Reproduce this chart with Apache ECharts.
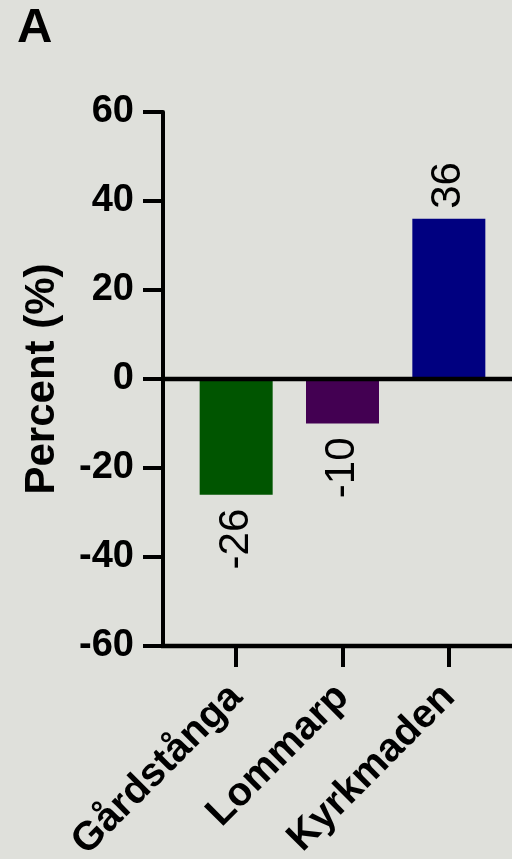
<!DOCTYPE html>
<html><head><meta charset="utf-8">
<script src="https://cdn.jsdelivr.net/npm/echarts@6/dist/echarts.min.js"></script>
<style>html,body{margin:0;padding:0;background:#dfe0db;}#c{width:512px;height:859px;}</style>
</head><body><div id="c"></div>
<script>
var categories = ['Gårdstånga', 'Lommarp', 'Kyrkmaden'];
var values = [-26, -10, 36];
var barColors = ['#005500', '#430052', '#000080'];
var yTicks = [-60, -40, -20, 0, 20, 40, 60];
var panelLetter = 'A';
var yName = 'Percent (%)';

var FONT = '"Liberation Sans", Arial, sans-serif';
var chart = echarts.init(document.getElementById('c'));
var data = values.map(function (v, i) {
  return {
    value: v,
    itemStyle: { color: barColors[i] },
    label: v >= 0
      ? { position: 'top', align: 'left', verticalAlign: 'middle', distance: 10 }
      : { position: 'bottom', align: 'right', verticalAlign: 'middle', distance: 14 }
  };
});
chart.setOption({
  backgroundColor: '#dfe0db',
  animation: false,
  title: { text: panelLetter, left: 12, top: -1,
    textStyle: { fontFamily: FONT, fontWeight: 'bold', fontSize: 49, color: '#000' } },
  grid: { left: 183, right: 10, top: 112, bottom: 213, containLabel: false, outerBoundsMode: 'none' },
  xAxis: {
    type: 'category', data: categories,
    axisLine: { show: false, onZero: false },
    axisTick: { show: true, alignWithLabel: true, length: 21, lineStyle: { width: 4, color: '#000' } },
    axisLabel: { rotate: 45, margin: 45, interval: 0, fontFamily: FONT, fontWeight: 'bold', fontSize: 40, color: '#000' }
  },
  yAxis: {
    type: 'value', min: yTicks[0], max: yTicks[yTicks.length - 1], interval: 20, offset: 20,
    name: yName, nameLocation: 'middle', nameGap: 100,
    nameTextStyle: { fontFamily: FONT, fontWeight: 'bold', fontSize: 42, color: '#000' },
    axisLine: { show: true, lineStyle: { width: 4, color: '#000' } },
    axisTick: { show: true, length: 20, lineStyle: { width: 4, color: '#000' } },
    axisLabel: { margin: 29, fontFamily: FONT, fontWeight: 'bold', fontSize: 38, color: '#000' },
    splitLine: { show: false }
  },
  series: [{
    type: 'bar', data: data, barWidth: 73,
    label: { show: true, rotate: 90, fontFamily: FONT, fontSize: 42, color: '#000' }
  }]
});
var yZero = chart.convertToPixel({ yAxisIndex: 0 }, 0);
var yBottom = chart.convertToPixel({ yAxisIndex: 0 }, yTicks[0]);
chart.setOption({
  graphic: [
    { type: 'line', shape: { x1: 161, y1: yZero, x2: 512, y2: yZero }, style: { stroke: '#000', lineWidth: 4.5 }, z: 100 },
    { type: 'line', shape: { x1: 161, y1: yBottom, x2: 512, y2: yBottom }, style: { stroke: '#000', lineWidth: 4.5 }, z: 100 }
  ]
});
</script></body></html>
